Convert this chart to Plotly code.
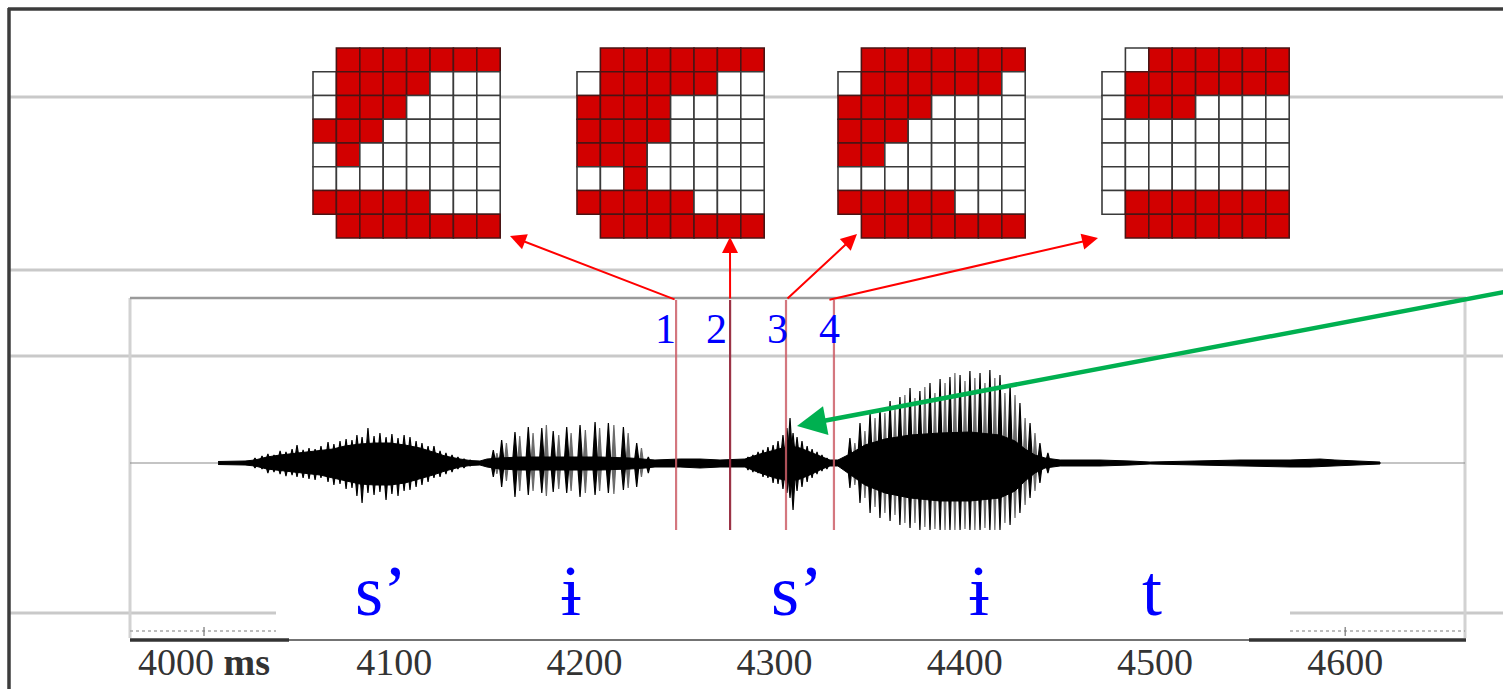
import plotly.graph_objects as go

W, H = 1503, 689

# Time axis (ms) spanning the full page width
T_RANGE = [3892.74, 4682.97]
# Amplitude axis: zero sits on the waveform baseline
AMP_RANGE = [-226, 463]

tick_vals = [4000, 4100, 4200, 4300, 4400, 4500, 4600]
tick_text = ["4000 <b>ms</b>", "4100", "4200", "4300", "4400", "4500", "4600"]

# --- waveform: dense core envelope (ms, upper, lower) ---
env_t = [4007.4, 4021.6, 4026.8, 4033.1, 4040.0, 4050.5, 4061.0, 4067.8, 4074.1, 4082.0,
         4089.9, 4097.8, 4105.7, 4113.6, 4120.4, 4126.7, 4134.6, 4139.9, 4145.1, 4148.8,
         4155.6, 4166.1, 4187.2, 4208.2, 4224.0, 4231.9, 4237.1, 4250.3, 4260.8, 4271.3,
         4284.4, 4292.3, 4300.2, 4308.1, 4313.4, 4319.7, 4324.9, 4329.1, 4333.3, 4339.6,
         4347.5, 4358.0, 4371.2, 4387.0, 4402.7, 4418.5, 4426.4, 4431.7, 4436.9, 4442.2,
         4450.1, 4471.1, 4486.9, 4497.4, 4521.0, 4544.7, 4571.0, 4581.5, 4586.8, 4594.6,
         4607.8, 4618.3]
env_hi = [1.5, 2, 3, 6, 8, 10, 12, 14, 17, 19,
          20, 20, 18, 15, 11, 7, 4, 2.5, 2, 4,
          5, 6, 6, 6, 5, 4, 3, 4, 4, 3,
          4, 9, 13, 17, 15, 10, 6, 3, 3, 9,
          18, 24, 28, 30, 31, 28, 22, 14, 8, 5,
          3, 3, 2, 1, 2, 3, 3, 4, 4, 3,
          2, 1]
env_lo = [-1.5, -2, -3, -6, -8, -10, -12, -15, -18, -21,
          -22, -22, -20, -16, -12, -8, -4, -2.5, -2, -4,
          -6, -7, -7, -7, -6, -5, -4, -4, -5, -4,
          -4, -10, -15, -18, -16, -11, -6, -3, -3, -11,
          -22, -30, -35, -38, -38, -35, -28, -18, -10, -5,
          -3, -3, -2, -1, -2, -3, -4, -4, -4, -3,
          -2, -1]

# --- fricative noise peaks ---
fric_t = [4026.8, 4030.5, 4033.6, 4036.8, 4040.0, 4043.1, 4046.3, 4048.9, 4052.1, 4055.2,
          4058.4, 4061.5, 4065.2, 4068.3, 4071.5, 4074.7, 4077.8, 4080.4, 4083.1, 4086.2,
          4089.4, 4092.5, 4095.7, 4098.8, 4102.0, 4105.2, 4108.3, 4111.5, 4114.6, 4117.8,
          4120.9, 4124.1, 4127.2, 4130.4, 4133.5, 4136.7, 4139.9,
          4286.0, 4288.6, 4291.3, 4293.9, 4296.5, 4299.2, 4301.8, 4304.4, 4306.5, 4308.1,
          4309.7, 4311.8, 4314.4, 4317.1, 4319.7, 4322.3, 4324.9, 4327.5]
fric_hi = [5, 7, 9, 8, 12, 11, 14, 18, 13, 15,
           14, 17, 21, 19, 22, 24, 23, 28, 26, 35,
           27, 30, 26, 29, 25, 28, 26, 22, 20, 17,
           17, 12, 10, 8, 6, 4, 3,
           6, 8, 11, 13, 16, 18, 22, 28, 35, 45,
           30, 26, 22, 17, 14, 11, 8, 5]
fric_lo = [-5, -6, -10, -9, -11, -13, -12, -14, -15, -16,
           -17, -15, -19, -22, -21, -26, -25, -33, -40, -30,
           -32, -29, -37, -31, -33, -28, -27, -24, -22, -19,
           -15, -14, -11, -9, -6, -5, -3,
           -7, -9, -10, -14, -15, -20, -21, -26, -30, -35,
           -47, -28, -24, -19, -15, -11, -8, -6]

# --- vowel glottal pulses (main peaks) ---
pulse_t = [4152.1, 4156.5, 4163.5, 4170.5, 4177.6, 4183.6, 4190.7, 4197.7, 4205.6, 4212.6,
           4220.5, 4227.5, 4233.6,
           4339.6, 4344.9, 4350.2, 4355.4, 4360.7, 4365.9, 4371.2, 4376.4, 4381.7, 4387.0,
           4392.2, 4397.5, 4402.7, 4408.0, 4413.2, 4418.5, 4423.8, 4429.0, 4434.3, 4439.5,
           4443.7]
pulse_hi = [13, 23, 31, 36, 35, 32, 36, 38, 41, 40,
            36, 20, 6,
            25, 40, 50, 55, 62, 66, 75, 72, 80, 84,
            86, 88, 92, 90, 93, 88, 78, 60, 40, 20,
            10]
pulse_lo = [-14, -24, -34, -32, -30, -29, -30, -34, -32, -30,
            -27, -24, -10,
            -25, -40, -50, -55, -58, -62, -65, -67, -67, -67,
            -67, -67, -67, -67, -67, -67, -62, -50, -35, -20,
            -10]

# --- vowel secondary peaks ---
sub_t = [4154.0, 4159.0, 4166.0, 4173.0, 4180.0, 4186.5, 4193.0, 4200.5, 4208.0, 4215.5,
         4223.0, 4230.0,
         4342.2, 4347.5, 4352.8, 4358.0, 4363.3, 4368.5, 4373.8, 4379.0, 4384.3, 4389.6,
         4394.8, 4400.1, 4405.3, 4410.6, 4415.8, 4421.1, 4426.4, 4431.7, 4436.9]
sub_hi = [10, 20, 27, 30, 38, 28, 30, 33, 35, 38,
          30, 15,
          20, 32, 45, 50, 55, 68, 65, 76, 70, 80,
          90, 82, 85, 80, 85, 70, 68, 45, 30]
sub_lo = [-11, -18, -28, -28, -33, -26, -28, -30, -28, -31,
          -25, -14,
          -22, -35, -44, -50, -52, -60, -60, -64, -66, -67,
          -67, -66, -67, -65, -67, -60, -55, -42, -28]

# --- EPG contact frames ('-' no electrode, '1' contact, '0' no contact) ---
frame_1 = ["-1111111", "01111000", "01110000", "11100000",
           "01000000", "00000000", "11111000", "-1111111"]
frame_2 = ["-1111111", "01111100", "11110000", "11110000",
           "11100000", "00100000", "11111000", "-1111111"]
frame_3 = ["-1111111", "01111110", "11110000", "11100000",
           "11000000", "00000000", "11111000", "-1111111"]
frame_4 = ["-0111111", "01111111", "01110000", "00000000",
           "00000000", "00000000", "01111111", "-1111111"]

# sampling instants of the four frames (ms)
frame_times = [4248.2, 4276.6, 4306.0, 4331.2]
frame_labels = ["1", "2", "3", "4"]

# segment transcription
seg_text = ["s’", "ɨ", "s’", "ɨ", "t"]
seg_time = [4093.1, 4193.0, 4311.8, 4407.5, 4498.4]


def t2px(t):
    return (t - T_RANGE[0]) / (T_RANGE[1] - T_RANGE[0]) * W


fig = go.Figure()


def spikes(ts, his, los, half):
    """Each peak as a thin diamond: pointed at its maximum and minimum."""
    xs, ys = [], []
    for t, a, b in zip(ts, his, los):
        xs += [t - half, t, t + half, t, t - half, None]
        ys += [0, a, 0, b, 0, None]
    return xs, ys


def add_spikes(ts, his, los, half, color):
    xs, ys = spikes(ts, his, los, half)
    fig.add_trace(go.Scatter(x=xs, y=ys, mode="lines", fill="toself",
                             fillcolor=color, line=dict(color=color, width=1.2),
                             hoverinfo="skip"))


# secondary (grey) peaks sit underneath the rest
add_spikes(sub_t, sub_hi, sub_lo, 1.1, "#6a6a6a")

# waveform core
fig.add_trace(go.Scatter(
    x=env_t + env_t[::-1], y=env_hi + env_lo[::-1],
    mode="lines", fill="toself",
    fillcolor="black", line=dict(color="black", width=1), hoverinfo="skip",
))

add_spikes(pulse_t, pulse_hi, pulse_lo, 1.3, "#000000")
add_spikes(fric_t, fric_hi, fric_lo, 1.5, "#000000")

shapes = []


def hline(y, x0, x1, color, width, layer="below", dash=None):
    ln = dict(color=color, width=width)
    if dash:
        ln["dash"] = dash
    shapes.append(dict(type="line", xref="x2", yref="y2", x0=x0, x1=x1, y0=y, y1=y,
                       line=ln, layer=layer))


def vline(x, y0, y1, color, width, layer="below"):
    shapes.append(dict(type="line", xref="x2", yref="y2", x0=x, x1=x, y0=y0, y1=y1,
                       line=dict(color=color, width=width), layer=layer))


GRID_GREY = "#c9c9c9"
# page rulings
hline(97, 10, W, GRID_GREY, 3)
hline(270, 10, W, GRID_GREY, 3)
hline(356, 10, W, GRID_GREY, 3)
hline(613, 10, 276, GRID_GREY, 3)
hline(613, 1290, W, GRID_GREY, 3)
# waveform panel frame
vline(130, 298, 638, "#d2d2d2", 3)
vline(1465, 298, 638, "#d2d2d2", 3)
hline(298, 130, 1466, "#9a9a9a", 2.5)
hline(463, 130, 1465, "#8a8a8a", 1.2)
hline(631, 130, 276, "#a8a8a8", 1.5, dash="dot")
hline(631, 1290, 1465, "#a8a8a8", 1.5, dash="dot")
vline(t2px(4000), 627, 636, "#777", 1.2)
vline(t2px(4600), 627, 636, "#777", 1.2)
hline(640, 130, 289, "#333", 3.5)
hline(640, 289, 1249, "#444", 1.3)
hline(640, 1249, 1466, "#333", 3.5)
# outer frame
hline(9, 8, W, "#3c3c3c", 3.5, layer="above")
vline(9, 8, H, "#3c3c3c", 3.5, layer="above")

# sampling lines through the waveform
line_cols = ["rgba(205,95,105,0.85)", "rgba(150,40,60,0.95)",
             "rgba(205,95,105,0.85)", "rgba(205,95,105,0.85)"]
for t, c in zip(frame_times, line_cols):
    shapes.append(dict(type="line", xref="x", yref="y2", x0=t, x1=t, y0=300, y1=530,
                       line=dict(color=c, width=2.2), layer="above"))

# EPG grids
CELL_W, CELL_H = 23.4, 23.75
GRID_TOP = 48
frame_left = [313, 577, 838, 1102]
RED = "#d20000"
for left, frame in zip(frame_left, [frame_1, frame_2, frame_3, frame_4]):
    for r, row in enumerate(frame):
        for c, ch in enumerate(row):
            if ch == "-":
                continue
            x0 = left + c * CELL_W
            y0 = GRID_TOP + r * CELL_H
            shapes.append(dict(
                type="rect", xref="x2", yref="y2",
                x0=x0, x1=x0 + CELL_W, y0=y0, y1=y0 + CELL_H,
                fillcolor=RED if ch == "1" else "white",
                line=dict(color="#4a1414" if ch == "1" else "#3a3a3a", width=1.6),
                layer="above",
            ))

annotations = []

# arrows from sampling instants to frames
arrow_tips = [(510, 236), (730, 237), (857, 234), (1098, 238)]
tail_shift = [0, 0, 0, -6]
for t, (tx, ty), dx in zip(frame_times, arrow_tips, tail_shift):
    annotations.append(dict(
        xref="x2", yref="y2", axref="x2", ayref="y2",
        x=tx, y=ty, ax=t2px(t) + dx, ay=300, text="", showarrow=True,
        arrowhead=2, arrowsize=1.6, arrowwidth=2, arrowcolor="#ff0000",
    ))

# frame numbers
num_px = [665, 716, 777, 829]
for x, s in zip(num_px, frame_labels):
    annotations.append(dict(
        xref="x2", yref="y2", x=x, y=329, text=s, showarrow=False,
        font=dict(family="Liberation Serif, serif", size=42, color="#0000ff"),
        xanchor="center", yanchor="middle",
    ))

# segment labels
for t, s in zip(seg_time, seg_text):
    annotations.append(dict(
        xref="x", yref="y2", x=t, y=591, text=s, showarrow=False,
        font=dict(family="Liberation Serif, DejaVu Serif, serif", size=72, color="#0000ff"),
        xanchor="center", yanchor="middle",
    ))

# pointer to the burst
annotations.append(dict(
    xref="x2", yref="y2", axref="x2", ayref="y2",
    x=797, y=426, ax=1510, ay=291, text="", showarrow=True,
    arrowhead=2, arrowsize=1.3, arrowwidth=4.5, arrowcolor="#00b050",
))

fig.update_layout(
    width=W, height=H,
    margin=dict(l=0, r=0, t=0, b=0, autoexpand=False),
    paper_bgcolor="white", plot_bgcolor="rgba(0,0,0,0)",
    showlegend=False,
    xaxis=dict(range=T_RANGE, domain=[0, 1], anchor="free", position=1 - 636 / H,
               automargin=False,
               showgrid=False, zeroline=False, showline=False, ticks="",
               tickvals=tick_vals, ticktext=tick_text,
               tickfont=dict(family="Liberation Serif, serif", size=38, color="#333333"),
               fixedrange=True),
    yaxis=dict(range=AMP_RANGE, domain=[0, 1], visible=False, fixedrange=True,
               automargin=False),
    xaxis2=dict(range=[0, W], overlaying="x", visible=False, fixedrange=True),
    yaxis2=dict(range=[H, 0], overlaying="y", visible=False, fixedrange=True),
    shapes=shapes,
    annotations=annotations,
)

fig.write_html("out.html")
